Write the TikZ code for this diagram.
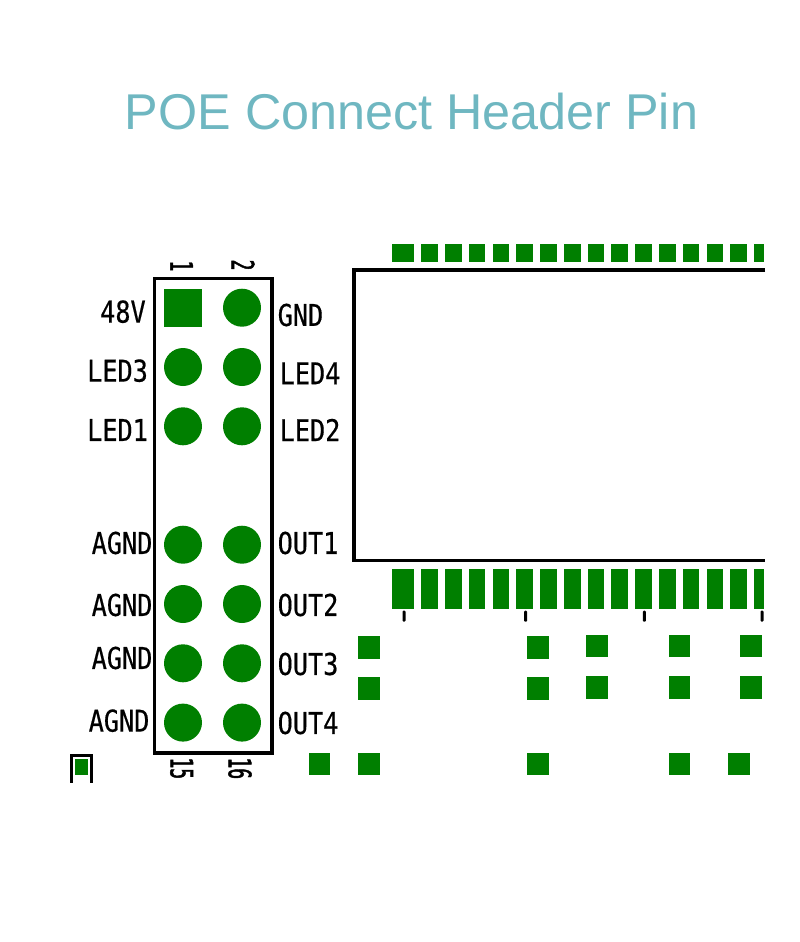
\documentclass[tikz,border=0pt]{standalone}
\usepackage{fontspec}
\usepackage{tikz}
\usetikzlibrary{positioning}
\setmainfont{Liberation Sans}
\newfontfamily\netfont[FakeStretch=0.84,FakeBold=0.5]{DejaVu Sans Mono}
\newfontfamily\numfont[FakeStretch=0.58,FakeBold=1.5]{DejaVu Sans Mono}
\definecolor{padgreen}{RGB}{0,127,0}
\definecolor{titleteal}{RGB}{111,183,193}

\begin{document}
\begin{tikzpicture}[
x = 1pt, y = -1pt,
node distance = 21.3pt and 21pt,
squarepin/.style={rectangle, fill=padgreen, inner sep = 0pt, outer sep = 0pt, minimum size = 38pt},
roundpin/.style={circle, fill=padgreen, inner sep = 0pt, outer sep = 0pt, minimum size = 38pt},
netname/.style={inner sep = 0pt, font=\netfont\fontsize{30}{30}\selectfont},
pinnum/.style={inner sep = 0pt, rotate=-90, font=\numfont\fontsize{31}{31}\selectfont},
toppad/.style={rectangle, fill=padgreen, inner sep = 0pt, outer sep = 0pt, minimum width = 16.6pt, minimum height = 17.7pt},
botpad/.style={rectangle, fill=padgreen, inner sep = 0pt, outer sep = 0pt, minimum width = 16.6pt, minimum height = 39.4pt},
smallpad/.style={rectangle, fill=padgreen, inner sep = 0pt, outer sep = 0pt, minimum width = 21.6pt, minimum height = 22.4pt},
tickmark/.style={rectangle, fill=black, rounded corners = 1pt, inner sep = 0pt, outer sep = 0pt, minimum width = 3pt, minimum height = 11pt},
outline/.style={draw=black, line width = 3.2pt}]

\useasboundingbox (0,0) rectangle (800,942);

\node[text=titleteal, inner sep = 0pt, font=\fontsize{50.3}{50.3}\selectfont] (title) at (411.5,112) {POE Connect Header Pin};

% header
\node[outline, rectangle, inner sep = 0pt, minimum width = 117.7pt, minimum height = 474.7pt] (header) at (213.2,515.7) {};

\node[squarepin] (hole1) at (183,307.7) {};
\node[roundpin] (hole2) [right = of hole1] {};
\node[roundpin] (hole3) [below = of hole1] {};
\node[roundpin] (hole4) [right = of hole3] {};
\node[roundpin] (hole5) [below = of hole3] {};
\node[roundpin] (hole6) [right = of hole5] {};
\node[roundpin] (hole9) [below = 80.4pt of hole5] {};
\node[roundpin] (hole10) [right = of hole9] {};
\node[roundpin] (hole11) [below = of hole9] {};
\node[roundpin] (hole12) [right = of hole11] {};
\node[roundpin] (hole13) [below = of hole11] {};
\node[roundpin] (hole14) [right = of hole13] {};
\node[roundpin] (hole15) [below = of hole13] {};
\node[roundpin] (hole16) [right = of hole15] {};

\node[pinnum] (num1) at (181.7,266) {1};
\node[pinnum] (num2) at (243,265) {2};
\node[pinnum] (num15) at (181.7,768.3) {15};
\node[pinnum] (num16) at (240,768.3) {16};

\node[netname, anchor=west] (n48v) at (100,311.7) {48V};
\node[netname, anchor=west] (led3) at (87,370.7) {LED3};
\node[netname, anchor=west] (led1) at (87,430) {LED1};
\node[netname, anchor=west] (agnd1) at (91.5,543) {AGND};
\node[netname, anchor=west] (agnd2) at (91.5,605) {AGND};
\node[netname, anchor=west] (agnd3) at (91.5,658) {AGND};
\node[netname, anchor=west] (agnd4) at (88.5,720.7) {AGND};

\node[netname, anchor=west] (gnd) at (277.5,315) {GND};
\node[netname, anchor=west] (led4) at (279.5,373.3) {LED4};
\node[netname, anchor=west] (led2) at (279.5,430) {LED2};
\node[netname, anchor=west] (out1) at (277.5,543) {OUT1};
\node[netname, anchor=west] (out2) at (277.5,605) {OUT2};
\node[netname, anchor=west] (out3) at (277.5,664) {OUT3};
\node[netname, anchor=west] (out4) at (277.5,723) {OUT4};

% module outline, open on the right
\coordinate (modne) at (765,270);
\coordinate (modnw) at (354,270);
\coordinate (modsw) at (354,560.7);
\coordinate (modse) at (765,560.7);
\draw[outline, miter limit=10] (modne)--(modnw)--(modsw)--(modse);

% top pads
\node[toppad, minimum width = 22.6pt] (t0) at (403,252.9) {};
\node[toppad] (t1) at (429.6,252.9) {};
\node[toppad] (t2) [right = 7.17pt of t1] {};
\node[toppad] (t3) [right = 7.17pt of t2] {};
\node[toppad] (t4) [right = 7.17pt of t3] {};
\node[toppad] (t5) [right = 7.17pt of t4] {};
\node[toppad] (t6) [right = 7.17pt of t5] {};
\node[toppad] (t7) [right = 7.17pt of t6] {};
\node[toppad] (t8) [right = 7.17pt of t7] {};
\node[toppad] (t9) [right = 7.17pt of t8] {};
\node[toppad] (t10) [right = 7.17pt of t9] {};
\node[toppad] (t11) [right = 7.17pt of t10] {};
\node[toppad] (t12) [right = 7.17pt of t11] {};
\node[toppad] (t13) [right = 7.17pt of t12] {};
\node[toppad] (t14) [right = 7.17pt of t13] {};
\node[toppad, minimum width = 10.3pt] (t15) [right = 7.17pt of t14] {};

% bottom pads
\node[botpad, minimum width = 22.6pt] (b0) at (403,589) {};
\node[botpad] (b1) at (429.6,589) {};
\node[botpad] (b2) [right = 7.17pt of b1] {};
\node[botpad] (b3) [right = 7.17pt of b2] {};
\node[botpad] (b4) [right = 7.17pt of b3] {};
\node[botpad] (b5) [right = 7.17pt of b4] {};
\node[botpad] (b6) [right = 7.17pt of b5] {};
\node[botpad] (b7) [right = 7.17pt of b6] {};
\node[botpad] (b8) [right = 7.17pt of b7] {};
\node[botpad] (b9) [right = 7.17pt of b8] {};
\node[botpad] (b10) [right = 7.17pt of b9] {};
\node[botpad] (b11) [right = 7.17pt of b10] {};
\node[botpad] (b12) [right = 7.17pt of b11] {};
\node[botpad] (b13) [right = 7.17pt of b12] {};
\node[botpad] (b14) [right = 7.17pt of b13] {};
\node[botpad, minimum width = 10.3pt] (b15) [right = 7.17pt of b14] {};

\node[tickmark] (tick0) at (404,616.2) {};
\node[tickmark] (tick1) at (525.7,616.2) {};
\node[tickmark] (tick2) at (644.3,616.2) {};
\node[tickmark] (tick3) at (762,616.2) {};

% small pads
\node[smallpad] (s1) at (369.2,647.3) {};
\node[smallpad] (s2) at (369.2,688.4) {};
\node[smallpad] (s3) at (369.2,764.2) {};
\node[smallpad] (s4) at (537.7,647.3) {};
\node[smallpad] (s5) at (537.7,688.4) {};
\node[smallpad] (s6) at (537.7,764.2) {};
\node[smallpad] (s7) at (597.2,646.2) {};
\node[smallpad] (s8) at (597.2,687.3) {};
\node[smallpad] (s9) at (679.4,646.2) {};
\node[smallpad] (s10) at (679.4,687.3) {};
\node[smallpad] (s11) at (679.4,764.2) {};
\node[smallpad] (s12) at (750.8,646.2) {};
\node[smallpad] (s13) at (750.8,687.3) {};
\node[smallpad] (s14) at (738.7,764.2) {};
\node[smallpad] (s15) at (319.6,764.2) {};

% corner mark
\node[rectangle, fill=padgreen, inner sep = 0pt, outer sep = 0pt, minimum width = 13.3pt, minimum height = 15.7pt] (mark) at (81.7,767.2) {};
\coordinate (marksw) at (71.5,782.7);
\coordinate (marknw) at (71.5,755.5);
\coordinate (markne) at (91.5,755.5);
\coordinate (markse) at (91.5,782.7);
\draw[draw=black, line width = 2.4pt] (marksw)--(marknw)--(markne)--(markse);
\end{tikzpicture}
\end{document}
